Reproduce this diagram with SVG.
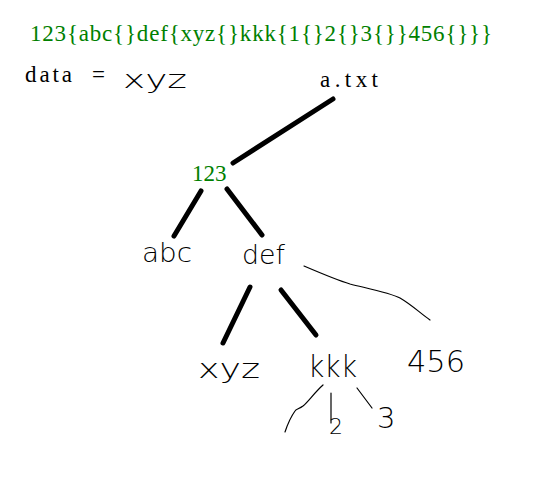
<svg xmlns="http://www.w3.org/2000/svg" width="559" height="479" viewBox="0 0 559 479">
<style>
.serif{font-family:"Liberation Serif","DejaVu Serif",serif;}
.green{fill:#008000;}
.black{fill:#000;}
.hand{font-family:"DejaVu Sans","Liberation Sans",sans-serif;font-weight:200;fill:#000;}
.thick{stroke:#000;stroke-width:5;stroke-linecap:round;fill:none;}
.thin{stroke:#000;stroke-width:1.2;stroke-linecap:round;stroke-linejoin:round;fill:none;}
</style>
<rect width="559" height="479" fill="#fff"/>
<g id="header">
<text class="serif green" x="30" y="41" font-size="23" textLength="462" lengthAdjust="spacing">123{abc{}def{xyz{}kkk{1{}2{}3{}}456{}}}</text>
<text class="serif black" x="25" y="82" font-size="23"><tspan textLength="47" lengthAdjust="spacing">data</tspan><tspan x="92" textLength="15">=</tspan></text>
<text class="hand" x="123" y="88" font-size="24" textLength="64" lengthAdjust="spacingAndGlyphs">xyz</text>
</g>
<g id="connectors">
<line class="thick" x1="333" y1="99" x2="233" y2="163"/>
<line class="thick" x1="201" y1="191" x2="174" y2="236"/>
<line class="thick" x1="227" y1="189" x2="262" y2="235"/>
<line class="thick" x1="250" y1="287" x2="223" y2="343"/>
<line class="thick" x1="281" y1="290" x2="316" y2="335"/>
<path class="thin" d="M304 266 C325 275 340 281 350 284 C370 289 390 293 400 298 C412 305 420 313 430 320"/>
<path class="thin" d="M323 385 C315 392 308 402 303 406 C299 409 296 409 295 411 C290 418 287 426 285 432"/>
<line class="thin" x1="331" y1="393" x2="331" y2="423"/>
<line class="thin" x1="357" y1="388" x2="372" y2="408"/>
</g>
<g id="node-atxt">
<text class="serif black" x="320" y="87" font-size="23" textLength="58" lengthAdjust="spacing">a.txt</text>
</g>
<g id="node-123">
<text class="serif green" x="192" y="181" font-size="23">123</text>
</g>
<g id="node-abc">
<text class="hand" x="142" y="262" font-size="26" textLength="50" lengthAdjust="spacingAndGlyphs">abc</text>
</g>
<g id="node-def">
<text class="hand" x="242" y="264" font-size="26" textLength="43" lengthAdjust="spacingAndGlyphs">def</text>
</g>
<g id="node-xyz">
<text class="hand" x="198" y="378" font-size="26" textLength="62" lengthAdjust="spacingAndGlyphs">xyz</text>
</g>
<g id="node-kkk">
<text class="hand" x="308" y="377" font-size="30" textLength="49" lengthAdjust="spacingAndGlyphs">kkk</text>
</g>
<g id="node-456">
<text class="hand" x="407" y="372" font-size="30" textLength="58" lengthAdjust="spacingAndGlyphs">456</text>
</g>
<g id="node-2">
<text class="hand" x="329" y="434" font-size="22">2</text>
</g>
<g id="node-3">
<text class="hand" x="377" y="428" font-size="29">3</text>
</g>
</svg>
